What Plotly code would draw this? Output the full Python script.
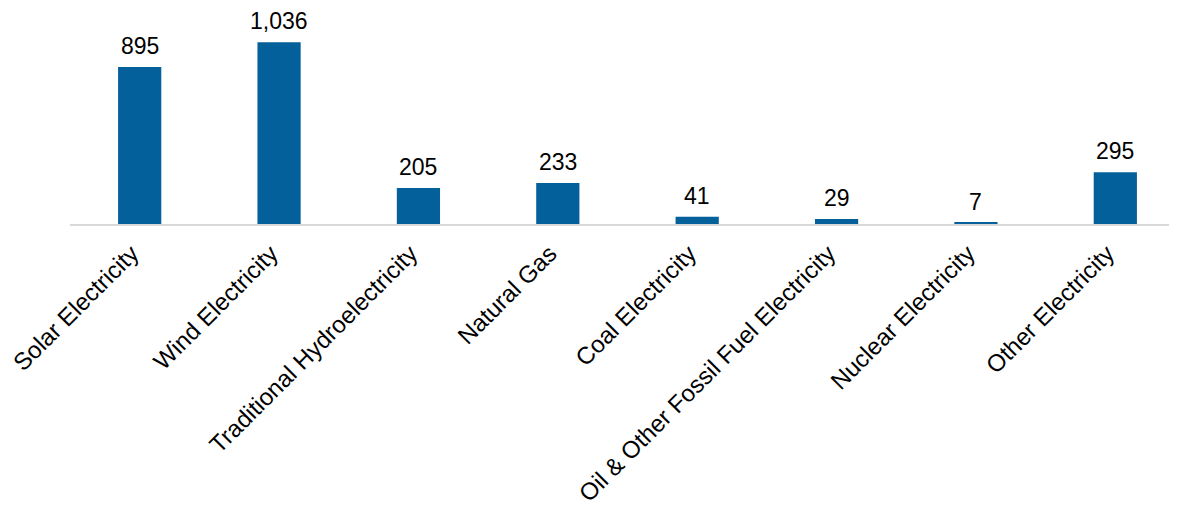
import plotly.graph_objects as go

categories = ["Solar Electricity", "Wind Electricity", "Traditional Hydroelectricity",
              "Natural Gas", "Coal Electricity", "Oil & Other Fossil Fuel Electricity",
              "Nuclear Electricity", "Other Electricity"]
values = [895, 1036, 205, 233, 41, 29, 7, 295]

BAR = "#03609A"
FONT = "Liberation Sans, Arial, sans-serif"

fig = go.Figure()
fig.add_trace(go.Bar(x=categories, y=values, marker=dict(color=BAR, line=dict(width=0)),
                     width=0.31, hoverinfo="x+y"))

for c, v in zip(categories, values):
    fig.add_annotation(x=c, y=v, text=f"{v:,}", showarrow=False, yanchor="bottom",
                       yshift=7, borderpad=0,
                       font=dict(size=23, color="black", family=FONT))

fig.update_layout(
    width=1177, height=512,
    margin=dict(l=58, r=0, t=23, b=295.5),
    plot_bgcolor="white", paper_bgcolor="white",
    showlegend=False,
    font=dict(family=FONT, size=23, color="black"),
    xaxis=dict(type="category", range=[-0.5, 7.5], tickangle=-45,
               showline=True, linecolor="#D9D9D9", linewidth=2, ticks="",
               showgrid=False, tickfont=dict(size=24, color="black", family=FONT),
               ticklabelstandoff=4, ticklabelshift=-8),
    yaxis=dict(range=[0, 1100], visible=False, showgrid=False, zeroline=False),
)

fig.write_html("out.html")
